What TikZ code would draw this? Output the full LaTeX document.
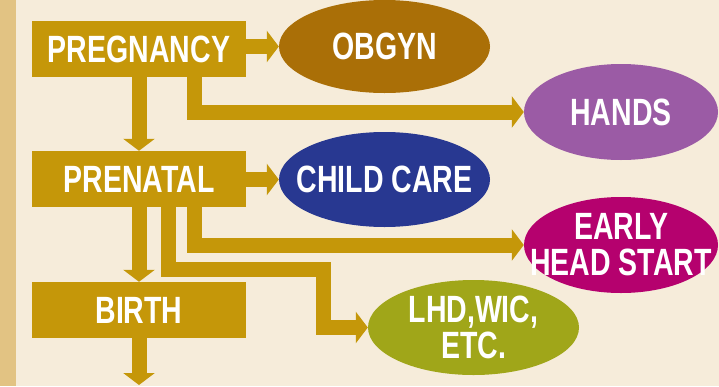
\documentclass[tikz,border=0pt]{standalone}
\usepackage{fontspec}
\newfontfamily\labelfont{Liberation Sans}[FakeStretch=0.75]
\usepackage{tikz}
\usetikzlibrary{shapes.geometric, arrows.meta}

\definecolor{paper}{HTML}{F6ECDA}
\definecolor{strip}{HTML}{E2C383}
\definecolor{gold}{HTML}{C59709}
\definecolor{obgyncol}{HTML}{AA6F07}
\definecolor{carecol}{HTML}{283891}
\definecolor{handscol}{HTML}{9B5BA5}
\definecolor{ehscol}{HTML}{B5016E}
\definecolor{lhdcol}{HTML}{A0A619}

\begin{document}
\begin{tikzpicture}[x=1pt, y=-1pt,
    stage/.style={fill=gold, text=white, minimum width=214pt, minimum height=56pt,
      inner sep=0pt, font=\labelfont\bfseries\fontsize{38}{36}\selectfont},
    service/.style={ellipse, text=white, inner sep=-25pt, align=center,
      font=\labelfont\bfseries\fontsize{38}{36}\selectfont},
    flow/.style={draw=gold, line width=15pt, line join=miter,
      -{Triangle[length=12pt, width=31pt]}}]

  % Page and left strip
  \fill[paper] (0,0) rectangle (719,386);
  \fill[strip] (0,0) rectangle (16,386);
  \useasboundingbox (0,0) rectangle (719,386);

  % Stages, top to bottom
  \node[stage] (preg)  at (139,49)  {PREGNANCY};
  \node[stage] (pren)  at (139,179) {PRENATAL};
  \node[stage] (birth) at (139,310) {BIRTH};
  \coordinate (next) at (139,385);

  % Services
  \node[service, fill=obgyncol, minimum width=211pt, minimum height=93pt]
    (obgyn) at (384.5,46.5) {OBGYN};
  \node[service, fill=handscol, minimum width=194pt, minimum height=96pt]
    (hands) at (621,112) {HANDS};
  \node[service, fill=carecol, minimum width=211pt, minimum height=95pt]
    (care) at (384.5,179.5) {CHILD CARE};
  \node[service, fill=ehscol, minimum width=194pt, minimum height=96pt]
    (ehs) at (621,245) {EARLY\\HEAD START};
  \node[service, fill=lhdcol, minimum width=211pt, minimum height=95pt]
    (lhd) at (473.5,327.5) {LHD,WIC,\\ETC.};

  % Arrows
  \coordinate (bend) at (323,269);
  \draw[flow] (preg.east |- obgyn.west) -- (obgyn.west);
  \draw[flow] ([xshift=55pt]preg.south) |- (hands.west);
  \draw[flow] (preg.south) -- (pren.north);
  \draw[flow] (pren.east |- care.west) -- (care.west);
  \draw[flow] ([xshift=55pt]pren.south) |- (ehs.west);
  \draw[flow] ([xshift=29pt]pren.south) |- (bend) |- (lhd.west);
  \draw[flow] (pren.south) -- (birth.north);
  \draw[flow] (birth.south) -- (next);

\end{tikzpicture}
\end{document}
